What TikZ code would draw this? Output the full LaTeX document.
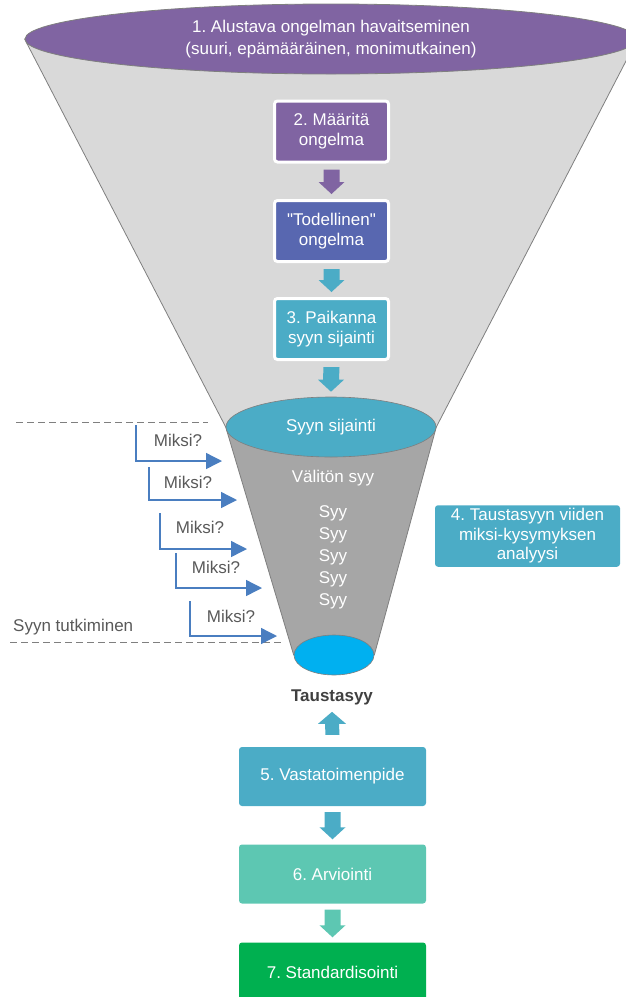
\documentclass[tikz,border=0pt]{standalone}
\usepackage{fontspec}
\setmainfont{Liberation Sans}[Ligatures=TeXOff]
\usetikzlibrary{shapes.geometric,arrows.meta,backgrounds}
\frenchspacing

\definecolor{purp}{RGB}{128,100,162}
\definecolor{indigo}{RGB}{88,103,176}
\definecolor{teal}{RGB}{75,172,198}
\definecolor{mint}{RGB}{93,199,178}
\definecolor{grn}{RGB}{0,176,80}
\definecolor{ltgray}{RGB}{217,217,217}
\definecolor{dkgray}{RGB}{166,166,166}
\definecolor{cyanb}{RGB}{0,176,240}
\definecolor{arrowblue}{RGB}{74,126,192}
\definecolor{edge}{RGB}{127,127,127}
\definecolor{txtgray}{RGB}{89,89,89}
\definecolor{darktxt}{RGB}{64,64,64}

\tikzset{
  fbox/.style={rectangle, rounded corners=3pt, draw=white, line width=3pt,
    minimum width=114pt, minimum height=61pt, text=white, align=center,
    font=\fontsize{17}{20}\selectfont},
  sbox/.style={rectangle, rounded corners=3pt, minimum width=187pt,
    minimum height=59pt, text=white},
  infobox/.style={rectangle, rounded corners=3pt, minimum width=185pt,
    minimum height=60pt, text=white, align=center,
    font=\fontsize{17}{19.5}\selectfont},
  why/.style={draw=arrowblue, line width=1.4pt,
    -{Triangle[length=16pt,width=16pt]}},
  whytxt/.style={text=txtgray, inner sep=0pt},
  guide/.style={draw=edge, line width=1pt, dash pattern=on 7pt off 4pt},
  celltxt/.style={text=white, inner sep=0pt},
}

% block arrow pointing down from the bottom of #1 to the top of #2
\newcommand\blockdown[3]{%
  \fill[#3] ([shift={(-8,6)}]#1.south) -- ([shift={(8,6)}]#1.south)
    -- ([shift={(8,-17)}]#2.north) -- ([shift={(13,-17)}]#2.north)
    -- ([shift={(0,-5)}]#2.north) -- ([shift={(-13,-17)}]#2.north)
    -- ([shift={(-8,-17)}]#2.north) -- cycle;}
% block arrow pointing up from the top of #1 to the bottom of #2
\newcommand\blockup[3]{%
  \fill[#3] ([shift={(-7,-12)}]#1.north) -- ([shift={(7,-12)}]#1.north)
    -- ([shift={(7,19)}]#2.south) -- ([shift={(14,19)}]#2.south)
    -- ([shift={(0,7)}]#2.south) -- ([shift={(-14,19)}]#2.south)
    -- ([shift={(-7,19)}]#2.south) -- cycle;}

\begin{document}
\begin{tikzpicture}[x=1pt, y=-1pt, font=\fontsize{17}{22}\selectfont]
\useasboundingbox (0,0) rectangle (626,997);
\clip (0,0) rectangle (626,997);

% funnel rims
\node[ellipse, fill=purp, draw=edge, line width=0.8pt, minimum width=612pt,
  minimum height=70pt, inner sep=0pt, text=white, align=center]
  (obs) at (331,39) {1. Alustava ongelman havaitseminen\\(suuri, epämääräinen, monimutkainen)};
\node[ellipse, fill=teal, draw=edge, line width=0.6pt, minimum width=210pt,
  minimum height=60pt, inner sep=0pt, text=white]
  (loc) at (331,427) {Syyn sijainti};
\node[ellipse, fill=cyanb, draw=edge, line width=0.6pt, minimum width=80pt,
  minimum height=40pt, inner sep=0pt] (root) at (334,655) {};

% funnel bodies
\begin{scope}[on background layer]
  \filldraw[fill=ltgray, draw=edge, line width=0.8pt]
    (obs.west) -- (obs.east) -- (loc.east) -- (loc.west) -- cycle;
  \filldraw[fill=dkgray, draw=edge, line width=0.8pt]
    (loc.west) -- (loc.east) -- (root.east) -- (root.west) -- cycle;
\end{scope}

% steps inside the upper funnel
\node[fbox, fill=purp]   (def)  at (331.5,131.5) {2. Määritä\\ongelma};
\node[fbox, fill=indigo] (real) at (331.5,231)   {"Todellinen"\\ongelma};
\node[fbox, fill=teal]   (loca) at (331.5,329)   {3. Paikanna\\syyn sijainti};
\blockdown{def}{real}{purp}
\blockdown{real}{loca}{teal}
\blockdown{loca}{loc}{teal}

% causes inside the lower funnel
\node[celltxt] (direct) at (333,478) {Välitön syy};
\node[celltxt] (c1) at (333,513) {Syy};
\node[celltxt] (c2) at (333,535) {Syy};
\node[celltxt] (c3) at (333,557) {Syy};
\node[celltxt] (c4) at (333,579) {Syy};
\node[celltxt] (c5) at (333,601) {Syy};

\node[infobox, fill=teal] (five) at (527.5,536)
  {4. Taustasyyn viiden\\miksi-kysymyksen\\analyysi};

% investigation band
\coordinate (d1a) at (16,422);  \coordinate (d1b) at (208,422);
\coordinate (d2a) at (10,642);  \coordinate (d2b) at (282,642);
\draw[guide] (d1a) -- (d1b);
\draw[guide] (d2a) -- (d2b);
\node[whytxt, anchor=west] (inv) at (13,627) {Syyn tutkiminen};

% the five "why" questions
\coordinate (w1a) at (136,425); \coordinate (w1b) at (222,461);
\coordinate (w2a) at (149,467); \coordinate (w2b) at (237,500);
\coordinate (w3a) at (160,513); \coordinate (w3b) at (247,549);
\coordinate (w4a) at (176,553); \coordinate (w4b) at (262,588);
\coordinate (w5a) at (190,601); \coordinate (w5b) at (277,636);
\draw[why] (w1a) |- (w1b);
\draw[why] (w2a) |- (w2b);
\draw[why] (w3a) |- (w3b);
\draw[why] (w4a) |- (w4b);
\draw[why] (w5a) |- (w5b);
\node[whytxt] (q1) at (178,440) {Miksi?};
\node[whytxt] (q2) at (188,482) {Miksi?};
\node[whytxt] (q3) at (200,527) {Miksi?};
\node[whytxt] (q4) at (216,567) {Miksi?};
\node[whytxt] (q5) at (231,616) {Miksi?};

% root cause and follow-up steps
\node[inner sep=0pt, text=darktxt, font=\fontsize{17}{20}\selectfont\bfseries]
  (rc) at (332,697) {Taustasyy};
\node[sbox, fill=teal] (cm)  at (332.5,776.5) {5. Vastatoimenpide};
\node[sbox, fill=mint] (ev)  at (332.5,874)   {6. Arviointi};
\node[sbox, fill=grn]  (std) at (332.5,972)   {7. Standardisointi};
\blockup{cm}{rc}{teal}
\blockdown{cm}{ev}{teal}
\blockdown{ev}{std}{mint}
\end{tikzpicture}
\end{document}
